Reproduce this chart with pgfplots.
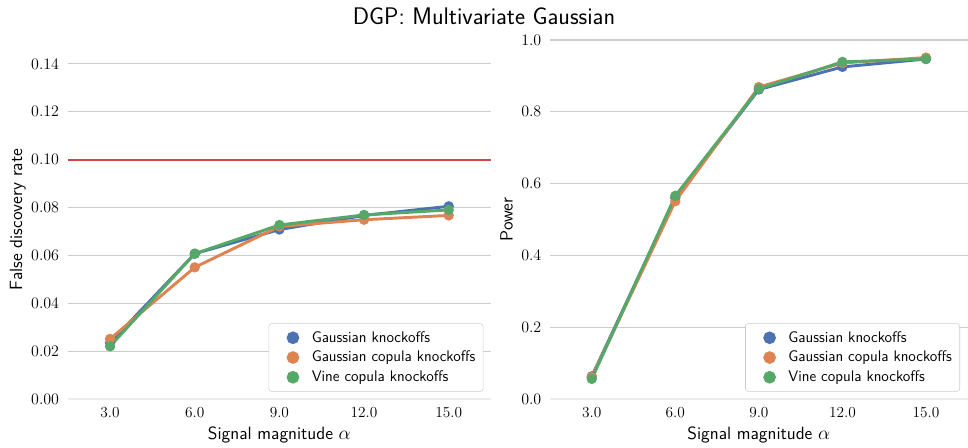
\documentclass[border=0pt]{standalone}
\usepackage{pgfplots}
\pgfplotsset{compat=1.18}
\definecolor{sbblue}{HTML}{4C72B0}
\definecolor{sborange}{HTML}{DD8452}
\definecolor{sbgreen}{HTML}{55A868}
\definecolor{sbred}{HTML}{D04545}
\definecolor{gridgray}{HTML}{CCCCCC}
\pgfplotsset{
  kn/.style={
    scale only axis, height=269.25pt, anchor=south west,
    xmin=-0.5, xmax=4.5, xtick={0,1,2,3,4},
    xticklabels={3.0,6.0,9.0,12.0,15.0},
    axis line style={draw=none}, major tick length=0pt,
    ymajorgrids, grid style={gridgray, line width=0.8pt},
    extra y ticks={0}, extra y tick style={grid style={gridgray!35, line width=0.8pt}},
    tick label style={font=\fontsize{11.5}{12}\selectfont},
    yticklabel style={xshift=-3pt},
    xticklabel style={yshift=-3pt},
    label style={font=\sffamily\fontsize{13.3}{14}\selectfont},
    xlabel={Signal magnitude $\alpha$},
    xlabel style={at={(axis description cs:0.5,-0.1)}, anchor=center},
    legend style={at={(axis description cs:1,0)}, anchor=south east,
      xshift=-5.8pt, yshift=5.5pt, draw=gridgray, rounded corners=2pt,
      fill=white, inner xsep=3.8pt, inner ysep=3.8pt,
      font=\sffamily\fontsize{11.5}{13}\selectfont, row sep=1.2pt},
    legend cell align=left,
    legend image code/.code={\path (0pt,0pt) (24.2pt,0pt); \fill[##1] (13.2pt,0pt) circle (3.6pt);},
    every axis plot/.append style={line width=2.2pt, mark=*, mark size=3.9pt, mark options={solid, draw opacity=0}},
  },
}
\begin{document}
\begin{tikzpicture}
\useasboundingbox (0,0) rectangle (726pt,336pt);
\node at (363pt,323.5pt) {\sffamily\fontsize{18}{20}\selectfont DGP: Multivariate Gaussian};
\begin{axis}[kn, at={(50.8pt,36.75pt)}, width=317.5pt,
  ymin=0, ymax=0.15, ytick={0.02,0.04,...,0.14},
  yticklabel style={/pgf/number format/fixed, /pgf/number format/fixed zerofill, /pgf/number format/precision=2},
  ylabel={False discovery rate},
  ylabel style={at={(axis description cs:-0.118,0.5)}, anchor=center}]
\addlegendimage{sbblue}\addlegendentry{Gaussian knockoffs}
\addlegendimage{sborange}\addlegendentry{Gaussian copula knockoffs}
\addlegendimage{sbgreen}\addlegendentry{Vine copula knockoffs}
\addplot[sbblue, forget plot] coordinates {(0,0.0235) (1,0.0607) (2,0.0708) (3,0.0767) (4,0.0805)};
\addplot[sborange, forget plot] coordinates {(0,0.0251) (1,0.0550) (2,0.0721) (3,0.0749) (4,0.0767)};
\addplot[sbgreen, forget plot] coordinates {(0,0.0220) (1,0.0607) (2,0.0727) (3,0.0769) (4,0.0790)};
\addplot[sbred, line width=1.5pt, mark=none, forget plot] table {
x y
-0.5 0.10
4.5 0.10
};
\end{axis}
\begin{axis}[kn, at={(412.5pt,36.75pt)}, width=313.3pt,
  ymin=0, ymax=1.0, ytick={0.2,0.4,...,1.0},
  yticklabel style={/pgf/number format/fixed, /pgf/number format/fixed zerofill, /pgf/number format/precision=1},
  ylabel={Power},
  ylabel style={at={(axis description cs:-0.104,0.5)}, anchor=center}]
\addlegendimage{sbblue}\addlegendentry{Gaussian knockoffs}
\addlegendimage{sborange}\addlegendentry{Gaussian copula knockoffs}
\addlegendimage{sbgreen}\addlegendentry{Vine copula knockoffs}
\addplot[sbblue, forget plot] coordinates {(0,0.063) (1,0.560) (2,0.862) (3,0.925) (4,0.947)};
\addplot[sborange, forget plot] coordinates {(0,0.061) (1,0.551) (2,0.869) (3,0.936) (4,0.951)};
\addplot[sbgreen, forget plot] coordinates {(0,0.056) (1,0.566) (2,0.864) (3,0.939) (4,0.947)};
\end{axis}
\end{tikzpicture}
\end{document}
